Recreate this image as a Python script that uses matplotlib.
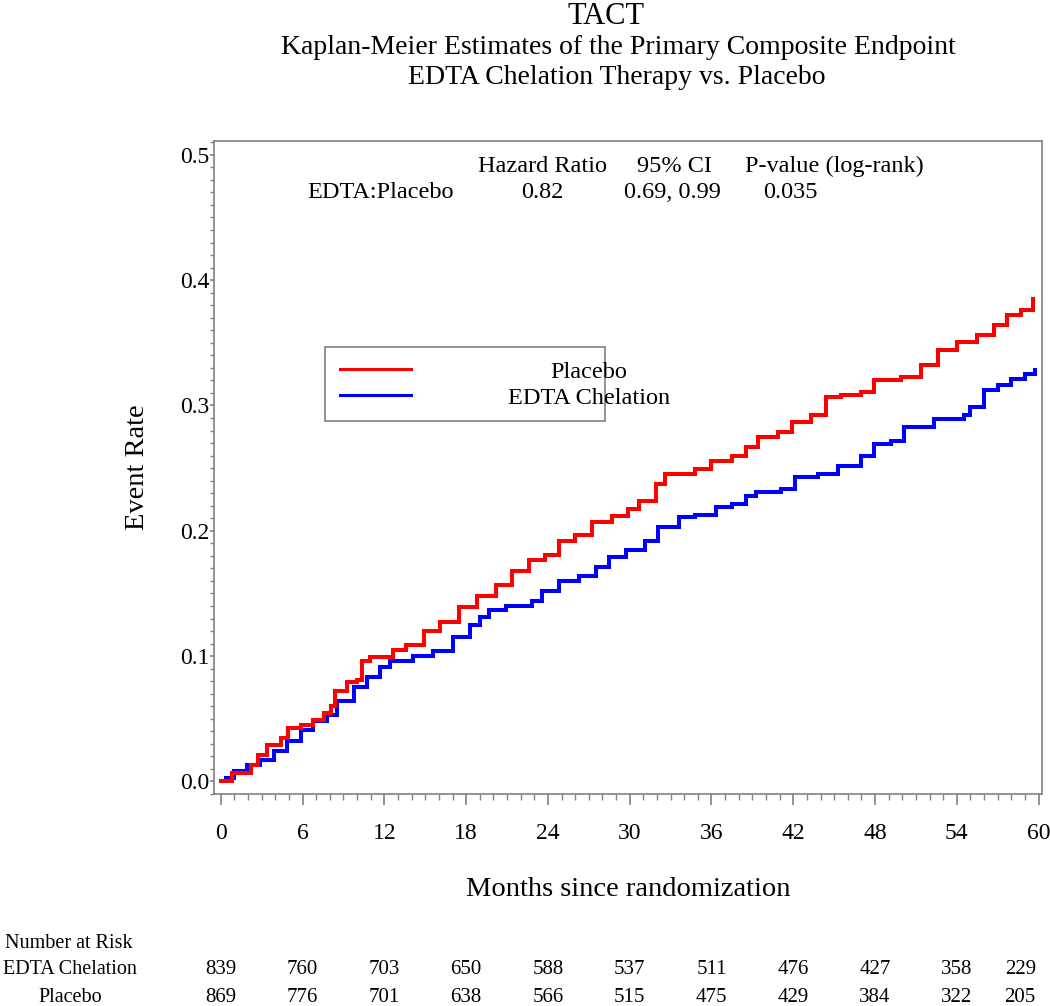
import matplotlib
matplotlib.use("Agg")
import matplotlib.pyplot as plt
import matplotlib.transforms as mtransforms
from matplotlib.patches import Rectangle
from matplotlib.ticker import MultipleLocator
import numpy as np

# ---- KM curve readings (months, cumulative event rate) ----
placebo_t = [0.0, 0.85, 2.2, 2.7, 3.4, 4.4, 4.9, 5.85, 6.8, 7.55, 8.05, 8.4, 9.25, 10.0,
             10.35, 10.95, 12.65, 13.6, 14.9, 16.1, 17.5, 18.8, 20.2, 21.4, 22.6, 23.8,
             24.8, 26.0, 27.2, 28.7, 29.9, 30.65, 31.9, 32.6, 34.8, 36.0, 37.5, 38.5,
             39.4, 40.9, 41.9, 43.3, 44.4, 45.5, 47.0, 47.95, 49.9, 51.4, 52.6, 54.0,
             55.5, 56.7, 57.7, 58.7, 59.6]
placebo_v = [0.0, 0.007, 0.013, 0.021, 0.029, 0.035, 0.043, 0.045, 0.049, 0.055, 0.060,
             0.072, 0.079, 0.081, 0.096, 0.099, 0.105, 0.109, 0.120, 0.127, 0.139, 0.148,
             0.157, 0.168, 0.177, 0.181, 0.192, 0.197, 0.207, 0.212, 0.217, 0.224, 0.237,
             0.245, 0.249, 0.256, 0.260, 0.267, 0.275, 0.279, 0.287, 0.292, 0.307, 0.308,
             0.311, 0.320, 0.323, 0.332, 0.344, 0.351, 0.356, 0.364, 0.372, 0.376, 0.385]

edta_t = [0.0, 0.35, 0.97, 1.95, 2.9, 3.9, 4.87, 5.85, 6.8, 7.8, 8.5, 9.75, 10.7, 11.7,
          12.4, 14.1, 15.6, 17.05, 18.3, 19.0, 19.7, 20.9, 22.85, 23.6, 24.8, 26.3, 27.5,
          28.5, 29.7, 31.1, 32.1, 33.6, 34.8, 36.3, 37.5, 38.5, 39.3, 41.1, 42.1, 43.8,
          45.3, 47.0, 47.95, 49.2, 50.1, 52.3, 54.5, 55.0, 56.0, 57.0, 58.0, 59.0, 59.7]
edta_v = [0.0, 0.003, 0.008, 0.013, 0.017, 0.024, 0.032, 0.041, 0.048, 0.053, 0.064,
          0.075, 0.083, 0.091, 0.096, 0.100, 0.104, 0.115, 0.125, 0.131, 0.137, 0.140,
          0.144, 0.152, 0.160, 0.164, 0.171, 0.179, 0.185, 0.192, 0.203, 0.211, 0.213,
          0.219, 0.221, 0.228, 0.231, 0.233, 0.243, 0.245, 0.252, 0.260, 0.269, 0.272,
          0.283, 0.289, 0.292, 0.299, 0.312, 0.316, 0.321, 0.325, 0.328]

# ---- Number at risk table ----
risk_months = [0, 6, 12, 18, 24, 30, 36, 42, 48, 54, 60]
risk_edta = [839, 760, 703, 650, 588, 537, 511, 476, 427, 358, 229]
risk_placebo = [869, 776, 701, 638, 566, 515, 475, 429, 384, 322, 205]

plt.rcParams['font.family'] = ['Liberation Serif', 'DejaVu Serif']

W, H = 1050, 1006
fig = plt.figure(figsize=(W / 100, H / 100), dpi=100)

def fx(x):
    return x / W

def fy(y):
    return 1 - y / H

ax = fig.add_axes([fx(214), fy(794), (1042 - 214) / W, (794 - 141) / H])

ax.plot(edta_t, edta_v, drawstyle="steps-post", color="#0000ff", linewidth=2.9,
        solid_joinstyle="miter")
ax.plot(placebo_t, placebo_v, drawstyle="steps-post", color="#ff0000", linewidth=2.9,
        solid_joinstyle="miter")

ax.set_xlim(-0.5, 60.25)
ax.set_ylim(-0.01, 0.511)

gray = "#808080"
for s in ax.spines.values():
    s.set_color(gray)
    s.set_linewidth(1.2)

ax.xaxis.set_major_locator(MultipleLocator(6))
ax.xaxis.set_minor_locator(MultipleLocator(1))
ax.yaxis.set_minor_locator(MultipleLocator(0.01))
ax.set_yticks([0.0, 0.1, 0.2, 0.3, 0.4, 0.5])
ax.set_yticklabels(["0.0", "0.1", "0.2", "0.3", "0.4", "0.5"])

ax.tick_params(axis="x", which="major", direction="out", length=8, width=1.2,
               color=gray, labelsize=17, pad=13)
ax.tick_params(axis="x", which="minor", direction="out", length=4, width=1.0, color=gray)
ax.tick_params(axis="y", which="major", direction="out", length=3, width=1.2,
               color=gray, labelsize=17, pad=0)
ax.tick_params(axis="y", which="minor", direction="out", length=3, width=1.0, color=gray)

ax.set_xlabel("Months since randomization", fontsize=20.5, labelpad=24)
ax.set_ylabel("Event Rate", fontsize=20.5, labelpad=22)

# ---- Titles ----
fig.text(fx(606), fy(16), "TACT", fontsize=22, ha="center", va="center")
fig.text(fx(618), fy(47), "Kaplan-Meier Estimates of the Primary Composite Endpoint",
         fontsize=20, ha="center", va="center")
fig.text(fx(617), fy(78), "EDTA Chelation Therapy vs. Placebo",
         fontsize=20, ha="center", va="center")

# ---- Hazard ratio box ----
hdr_y, row_y = fy(166), fy(192)
fig.text(fx(542), hdr_y, "Hazard Ratio", fontsize=17.5, ha="center", va="center")
fig.text(fx(674), hdr_y, "95% CI", fontsize=17.5, ha="center", va="center")
fig.text(fx(834), hdr_y, "P-value (log-rank)", fontsize=17.5, ha="center", va="center")
fig.text(fx(381), row_y, "EDTA:Placebo", fontsize=17.5, ha="center", va="center")
fig.text(fx(542), row_y, "0.82", fontsize=17.5, ha="center", va="center")
fig.text(fx(672), row_y, "0.69, 0.99", fontsize=17.5, ha="center", va="center")
fig.text(fx(790), row_y, "0.035", fontsize=17.5, ha="center", va="center")

# ---- Legend (drawn by hand to keep the original's layout) ----
fig.patches.append(Rectangle((fx(325), fy(421)), (605 - 325) / W, (421 - 347) / H,
                             transform=fig.transFigure, fill=False, edgecolor=gray,
                             linewidth=1.2))
fig.lines.append(plt.Line2D([fx(340), fx(411)], [fy(369), fy(369)],
                            transform=fig.transFigure, color="#ff0000", linewidth=2.2))
fig.lines.append(plt.Line2D([fx(340), fx(411)], [fy(395), fy(395)],
                            transform=fig.transFigure, color="#0000ff", linewidth=2.2))
fig.text(fx(589), fy(373), "Placebo", fontsize=17.5, ha="center", va="center")
fig.text(fx(589), fy(398), "EDTA Chelation", fontsize=17.5, ha="center", va="center")

# ---- Number at risk ----
fig.text(fx(5), fy(943), "Number at Risk", fontsize=14.5, ha="left", va="center")
fig.text(fx(3), fy(970), "EDTA Chelation", fontsize=14.5, ha="left", va="center")
fig.text(fx(70), fy(997), "Placebo", fontsize=14.5, ha="center", va="center")

trans = mtransforms.blended_transform_factory(ax.transData, fig.transFigure)
for m, ne, npl in zip(risk_months, risk_edta, risk_placebo):
    if m == risk_months[-1]:
        xm, ha = m - 0.2, "right"
    else:
        xm, ha = m, "center"
    fig.text(xm, fy(970), str(ne), fontsize=15, ha=ha, va="center", transform=trans)
    fig.text(xm, fy(997), str(npl), fontsize=15, ha=ha, va="center", transform=trans)

fig.savefig("out.png", dpi=100)
